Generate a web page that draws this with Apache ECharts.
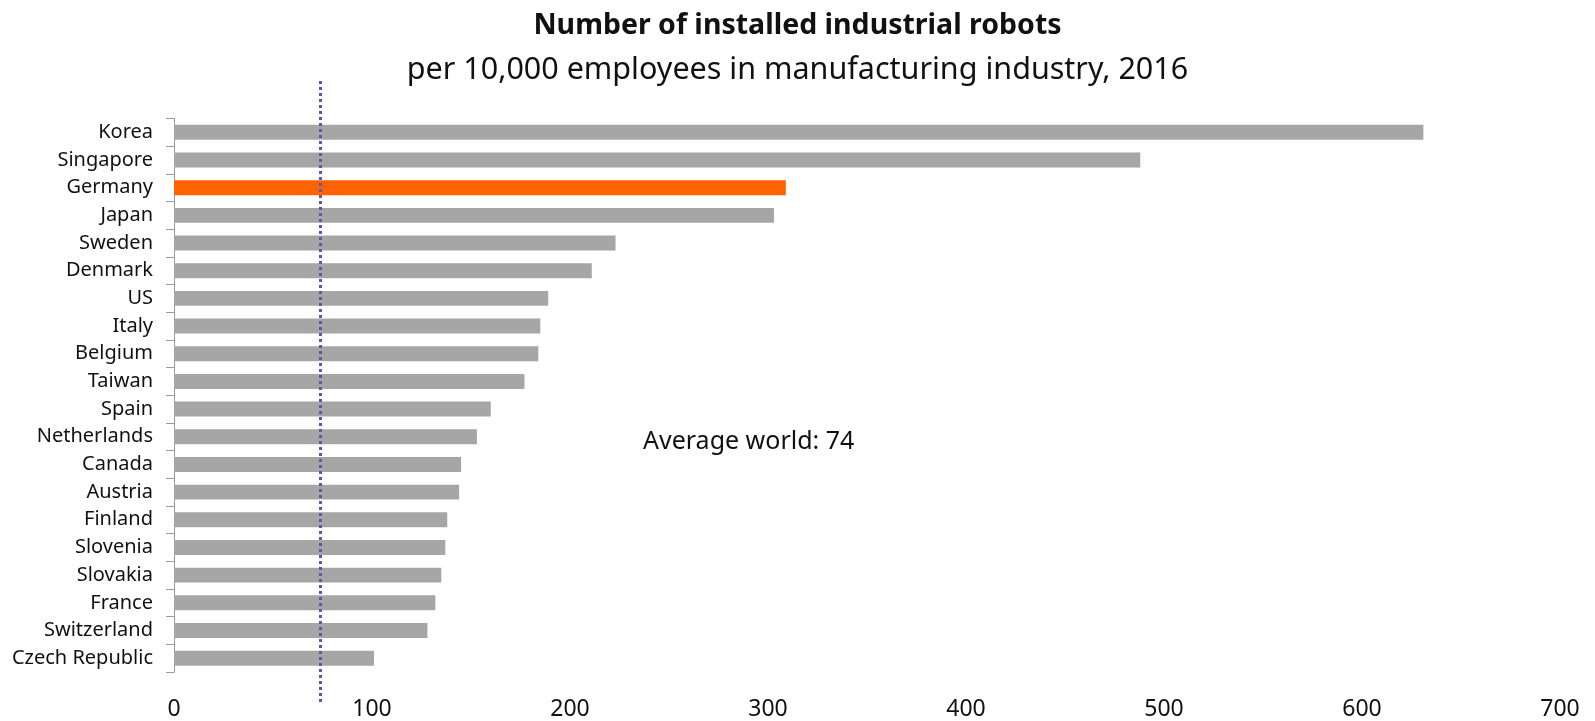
<!DOCTYPE html>
<html>
<head>
<meta charset="utf-8">
<script src="https://cdn.jsdelivr.net/npm/echarts@6/dist/echarts.min.js"></script>
<style>
  html, body { margin: 0; padding: 0; background: #fff; }
  #chart { width: 1595px; height: 721px; }
</style>
</head>
<body>
<div id="chart"></div>
<script>
// Robot density, 2016 (installed industrial robots per 10,000 manufacturing employees)
const countries = ['Korea', 'Singapore', 'Germany', 'Japan', 'Sweden', 'Denmark', 'US', 'Italy',
  'Belgium', 'Taiwan', 'Spain', 'Netherlands', 'Canada', 'Austria', 'Finland', 'Slovenia',
  'Slovakia', 'France', 'Switzerland', 'Czech Republic'];
const robotDensity = [631, 488, 309, 303, 223, 211, 189, 185, 184, 177, 160, 153, 145, 144, 138,
  137, 135, 132, 128, 101];
const highlighted = 'Germany';
const worldAverage = 74;
const xTicks = [0, 100, 200, 300, 400, 500, 600, 700];

const FONT = 'Noto Sans';
const GREY = '#a6a6a6';
const ORANGE = '#ff6200';

const chart = echarts.init(document.getElementById('chart'), null, { renderer: 'canvas' });

chart.setOption({
  animation: false,
  backgroundColor: '#ffffff',
  title: [
    {
      text: 'Number of installed industrial robots',
      left: 'center', top: 6,
      textStyle: { fontFamily: FONT, fontSize: 28.5, fontWeight: 'bold', color: '#111' }
    },
    {
      text: 'per 10,000 employees in manufacturing industry, 2016',
      left: 'center', top: 50,
      textStyle: { fontFamily: FONT, fontSize: 30.5, fontWeight: 'normal', color: '#111' }
    }
  ],
  grid: [
    { left: 174, right: 35, top: 118.5, bottom: 48, containLabel: false },
    { left: 174, right: 35, top: 81, bottom: 19, containLabel: false }
  ],
  xAxis: [
    {
      type: 'value', gridIndex: 0,
      min: xTicks[0], max: xTicks[xTicks.length - 1], interval: 100,
      axisLine: { show: false }, axisTick: { show: false }, splitLine: { show: false },
      axisLabel: { fontFamily: FONT, fontSize: 23, color: '#111', margin: 26 }
    },
    {
      type: 'value', gridIndex: 1,
      min: xTicks[0], max: xTicks[xTicks.length - 1], show: false
    }
  ],
  yAxis: [
    {
      type: 'category', gridIndex: 0, data: countries, inverse: true,
      axisLine: { show: true, lineStyle: { color: '#9a9a9a', width: 1 } },
      axisTick: { show: true, length: 8, lineStyle: { color: '#9a9a9a' } },
      axisLabel: { fontFamily: FONT, fontSize: 20, color: '#111', margin: 21 }
    },
    { type: 'value', gridIndex: 1, min: 0, max: 1, show: false }
  ],
  series: [
    {
      type: 'bar', xAxisIndex: 0, yAxisIndex: 0,
      barWidth: '54%',
      data: robotDensity.map((v, i) => ({
        value: v,
        itemStyle: { color: countries[i] === highlighted ? ORANGE : GREY }
      }))
    },
    {
      type: 'line', xAxisIndex: 1, yAxisIndex: 1,
      symbol: 'none', silent: true,
      lineStyle: { color: '#5a5aa8', width: 3, type: [3, 3] },
      data: [[worldAverage, 0], [worldAverage, 1]],
      z: 5
    }
  ],
  graphic: [
    {
      type: 'text', left: 643, top: 429, silent: true,
      style: {
        text: 'Average world: ' + worldAverage,
        fontFamily: FONT, fontSize: 25, fill: '#111'
      }
    }
  ]
});
</script>
</body>
</html>
